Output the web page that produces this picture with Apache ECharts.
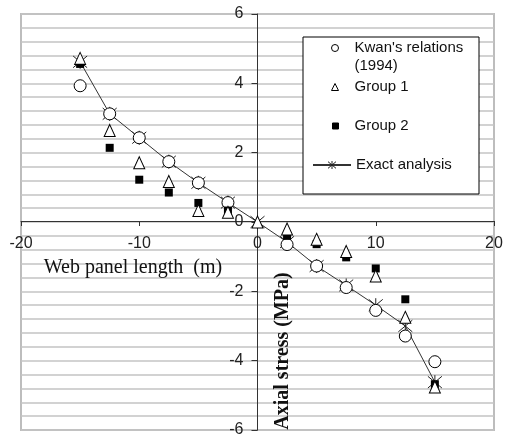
<!DOCTYPE html>
<html>
<head>
<meta charset="utf-8">
<script src="https://cdn.jsdelivr.net/npm/echarts@6/dist/echarts.min.js"></script>
<style>
html,body{margin:0;padding:0;background:#fff;}
#chart{width:507px;height:438px;}
</style>
</head>
<body>
<div id="chart"></div>
<script>
// Data
const panelLength = [-15, -12.5, -10, -7.5, -5, -2.5, 0, 2.5, 5, 7.5, 10, 12.5, 15];
const kwan   = [3.93, 3.12, 2.43, 1.74, 1.13, 0.56, null, -0.65, -1.27, -1.89, -2.55, -3.29, -4.03];
const group1 = [4.72, 2.64, 1.71, 1.17, 0.33, 0.28, 0, -0.2, -0.5, -0.85, -1.56, -2.75, -4.76];
const group2 = [4.56, 2.14, 1.22, 0.85, 0.55, 0.33, null, -0.4, -0.64, -1.02, -1.34, -2.23, -4.68];
const exact  = [4.62, 3.12, 2.43, 1.74, 1.13, 0.56, 0, -0.58, -1.27, -1.83, -2.4, -3.0, -4.62];
const seriesNames = ["Kwan's relations\n(1994)", 'Group 1', 'Group 2', 'Exact analysis'];
const xTitle = 'Web panel length  (m)';
const yTitle = 'Axial stress (MPa)';

function pairs(ys) { return panelLength.map((x, i) => [x, ys[i]]); }

const W = 507, H = 438;
const gridBox = {left: 21, right: 13, top: 14, bottom: 6};
// Axes cross at the origin (centre of the symmetric ranges)
const xOffset = -(H - gridBox.top - gridBox.bottom) / 2;
const yOffset = -(W - gridBox.left - gridBox.right) / 2;

const starPath = 'path://M0,0L10,10M10,0L0,10M5,-1L5,11';
const sansFont = "'Liberation Sans', Arial, sans-serif";
const serifFont = "'Liberation Serif', 'Times New Roman', serif";

const chart = echarts.init(document.getElementById('chart'), null, {renderer: 'canvas'});
const legendText = {fontFamily: sansFont, fontSize: 15, color: '#111', lineHeight: 18};
const legendTextPad = Object.assign({padding: [0, 0, 0, 11]}, legendText);
const legendBase = {orient: 'vertical', padding: 0, selectedMode: false, symbolKeepAspect: true,
  itemStyle: {borderWidth: 1}};
chart.setOption({
  backgroundColor: '#fff',
  animation: false,
  grid: Object.assign({show: true, borderColor: '#bdbdbd', borderWidth: 2}, gridBox),
  xAxis: {
    type: 'value', min: -20, max: 20, interval: 10, position: 'bottom', offset: xOffset,
    axisLine: {onZero: false, lineStyle: {color: '#333', width: 1}},
    axisTick: {show: true, length: 5, lineStyle: {color: '#333'}},
    axisLabel: {fontFamily: sansFont, fontSize: 16, color: '#222', margin: 15},
    splitLine: {show: false}
  },
  yAxis: {
    type: 'value', min: -6, max: 6, interval: 2, position: 'left', offset: yOffset,
    axisLine: {onZero: false, lineStyle: {color: '#333', width: 1}},
    axisTick: {show: true, length: 6, lineStyle: {color: '#333'}},
    axisLabel: {fontFamily: sansFont, fontSize: 16, color: '#222', margin: 14},
    splitLine: {show: true, lineStyle: {color: '#c4c4c4', width: 1.5}},
    minorTick: {show: false, splitNumber: 5},
    minorSplitLine: {show: true, lineStyle: {color: '#c4c4c4', width: 1.5}}
  },
  legend: [
    Object.assign({data: [seriesNames[0]], left: 331, top: 21, itemWidth: 7, itemHeight: 7,
     textStyle: legendTextPad, formatter: n => '\n' + n}, legendBase),
    Object.assign({data: [seriesNames[1]], left: 331, top: 78, itemWidth: 7, itemHeight: 7,
     textStyle: legendTextPad}, legendBase),
    Object.assign({data: [seriesNames[2]], left: 332, top: 117, itemWidth: 6, itemHeight: 6,
     textStyle: legendTextPad}, legendBase),
    Object.assign({data: [seriesNames[3]], left: 312, top: 156, itemWidth: 38, itemHeight: 10,
     textStyle: legendText}, legendBase)
  ],
  graphic: [
    {type: 'rect', shape: {x: 303, y: 37, width: 176, height: 157}, z: 3,
     style: {fill: '#fff', stroke: '#000', lineWidth: 1}},
    {type: 'text', x: 133, y: 268, z: 5,
     style: {text: xTitle, font: '20px ' + serifFont, fill: '#111', align: 'center', verticalAlign: 'middle'}},
    {type: 'text', x: 283, y: 351, rotation: Math.PI / 2, z: 5,
     style: {text: yTitle, font: 'bold 20px ' + serifFont, fill: '#111', align: 'center', verticalAlign: 'middle'}}
  ],
  series: [
    {name: seriesNames[3], type: 'line', data: pairs(exact), z: 2,
     symbol: starPath, symbolSize: 14, showSymbol: true,
     lineStyle: {color: '#333', width: 1},
     itemStyle: {color: 'rgba(0,0,0,0)', borderColor: '#222', borderWidth: 1}},
    {name: seriesNames[0], type: 'scatter', data: pairs(kwan), z: 3,
     symbol: 'circle', symbolSize: 12,
     itemStyle: {color: '#fff', borderColor: '#000', borderWidth: 1, opacity: 1}},
    {name: seriesNames[2], type: 'scatter', data: pairs(group2), z: 4,
     symbol: 'rect', symbolSize: 8,
     itemStyle: {color: '#000', borderColor: '#000', borderWidth: 0, opacity: 1}},
    {name: seriesNames[1], type: 'scatter', data: pairs(group1), z: 5,
     symbol: 'triangle', symbolSize: [11, 12],
     itemStyle: {color: '#fff', borderColor: '#000', borderWidth: 1, opacity: 1}}
  ]
});
</script>
</body>
</html>
